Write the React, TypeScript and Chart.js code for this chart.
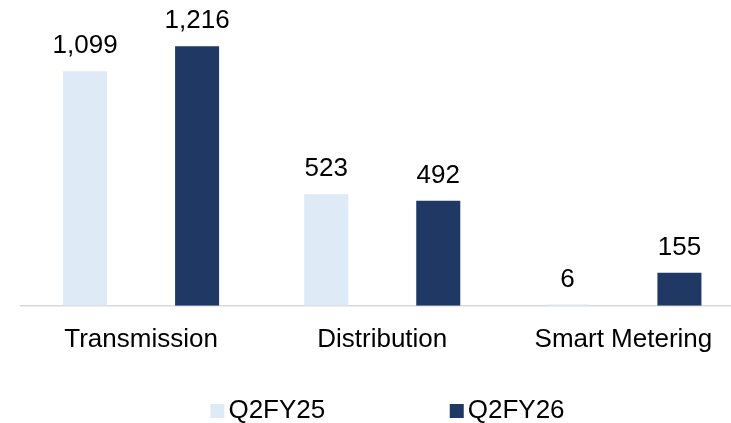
import React, { useEffect, useRef } from "react";
import { Chart, registerables } from "chart.js";

Chart.register(...registerables);

const categories = ["Transmission", "Distribution", "Smart Metering"];
const seriesNames = ["Q2FY25", "Q2FY26"];
const q2fy25 = [1099, 523, 6];
const q2fy26 = [1216, 492, 155];
const colors = ["#DEEAF6", "#203864"];
const FONT = "'Liberation Sans', Arial, sans-serif";
const VIEW_W = 731;
const CANVAS_W = 744;
const CANVAS_H = 423;

const fmt = (v: number) => v.toLocaleString("en-US");

const labelPlugin = {
  id: "valueLabels",
  afterDatasetsDraw(chart: any) {
    const ctx = chart.ctx;
    ctx.save();
    ctx.fillStyle = "#000";
    ctx.font = `26px ${FONT}`;
    ctx.textAlign = "center";
    ctx.textBaseline = "alphabetic";
    chart.data.datasets.forEach((ds: any, i: number) => {
      const meta = chart.getDatasetMeta(i);
      meta.data.forEach((bar: any, j: number) => {
        ctx.fillText(fmt(ds.data[j]), bar.x, bar.y - 18);
      });
    });
    ctx.restore();
  },
};

const legendPlugin = {
  id: "customLegend",
  afterDraw(chart: any) {
    const ctx = chart.ctx;
    ctx.save();
    ctx.font = `26px ${FONT}`;
    ctx.textBaseline = "alphabetic";
    ctx.textAlign = "left";
    const box = 14;
    const gapBoxText = 4;
    const gapItems = 124.5;
    const widths = seriesNames.map((n) => box + gapBoxText + ctx.measureText(n).width);
    const total = widths.reduce((a, b) => a + b, 0) + gapItems * (seriesNames.length - 1);
    const cx = VIEW_W / 2 + 22;
    let x = cx - total / 2;
    const baseline = 418;
    seriesNames.forEach((n, i) => {
      ctx.fillStyle = colors[i];
      ctx.fillRect(x, 404, box, box);
      ctx.fillStyle = "#000";
      ctx.fillText(n, x + box + gapBoxText, baseline);
      x += widths[i] + gapItems;
    });
    ctx.restore();
  },
};

export default function App() {
  const ref = useRef<HTMLCanvasElement>(null);
  useEffect(() => {
    document.body.style.margin = "0";
    const chart = new Chart(ref.current!, {
      type: "bar",
      data: {
        labels: categories,
        datasets: [
          { label: seriesNames[0], data: q2fy25, backgroundColor: colors[0] },
          { label: seriesNames[1], data: q2fy26, backgroundColor: colors[1] },
        ],
      },
      options: {
        responsive: false,
        animation: false,
        maintainAspectRatio: false,
        datasets: { bar: { categoryPercentage: 0.929, barPercentage: 0.393 } },
        layout: { padding: { left: 20.5, right: 0, top: 7, bottom: 50 } },
        plugins: { legend: { display: false }, tooltip: { enabled: false } },
        scales: {
          x: {
            grid: { display: false, drawTicks: false },
            border: { display: true, color: "#D9D9D9", width: 1.5 },
            ticks: { color: "#000", font: { family: FONT, size: 26 }, padding: 18, maxRotation: 0, autoSkip: false },
          },
          y: {
            display: false,
            min: 0,
            max: 1400,
          },
        },
      },
      plugins: [labelPlugin, legendPlugin],
    });
    return () => chart.destroy();
  }, []);
  return (
    <div style={{ width: VIEW_W, height: CANVAS_H, overflow: "hidden" }}>
      <canvas ref={ref} width={CANVAS_W} height={CANVAS_H} style={{ display: "block" }} />
    </div>
  );
}
